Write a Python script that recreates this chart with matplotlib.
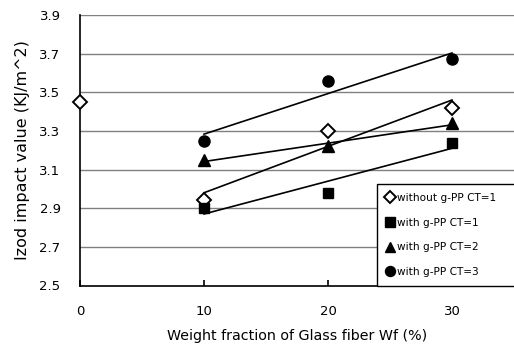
import numpy as np
import matplotlib
matplotlib.use("Agg")
import matplotlib.pyplot as plt

plt.rcParams['font.family'] = ['DejaVu Sans']

x_without = [0, 10, 20, 30]
without_ct1 = [3.45, 2.94, 3.30, 3.42]
x_with = [10, 20, 30]
with_ct1 = [2.90, 2.98, 3.24]
with_ct2 = [3.15, 3.22, 3.34]
with_ct3 = [3.25, 3.56, 3.67]
labels = ["without g-PP CT=1", "with g-PP CT=1", "with g-PP CT=2", "with g-PP CT=3"]
yticks = [2.5, 2.7, 2.9, 3.1, 3.3, 3.5, 3.7, 3.9]
xticks = [0, 10, 20, 30]

fig = plt.figure(figsize=(5.14, 3.51), dpi=100)
ax = fig.add_axes([80/514, (351-285.5)/351, 1 - 80/514, (285.5-15)/351])

ax.set_xlim(0, 35)
ax.set_ylim(2.5, 3.9)
for y in yticks[1:]:
    ax.axhline(y, color='#808080', lw=1.0, zorder=0)

series = [
    (x_without, without_ct1, dict(marker='D', mfc='white', mec='black', mew=1.4, ms=7)),
    (x_with, with_ct1, dict(marker='s', mfc='black', mec='black', ms=7.5)),
    (x_with, with_ct2, dict(marker='^', mfc='black', mec='black', ms=8.5)),
    (x_with, with_ct3, dict(marker='o', mfc='black', mec='black', ms=8)),
]
handles = []
for (xs, ys, st), lab in zip(series, labels):
    h, = ax.plot(xs, ys, ls='none', label=lab, zorder=4, clip_on=False, **st)
    handles.append(h)
    xf = np.array([v for v in xs if v >= 10], dtype=float)
    yf = np.array([ys[i] for i, v in enumerate(xs) if v >= 10], dtype=float)
    k, b = np.polyfit(xf, yf, 1)
    xx = np.array([xf.min(), xf.max()])
    ax.plot(xx, k * xx + b, color='black', lw=1.2, zorder=3)

ax.set_xticks(xticks)
ax.set_yticks(yticks)
ax.set_xticklabels([str(v) for v in xticks])
ax.set_yticklabels([f"{v:.1f}" for v in yticks])
ax.tick_params(axis='x', direction='in', length=4, width=1.2, pad=14, labelsize=9.5)
ax.tick_params(axis='y', length=0, pad=14, labelsize=9.5)
ax.spines['right'].set_visible(False)
ax.spines['top'].set_visible(False)
ax.spines['left'].set_linewidth(1.2)
ax.spines['bottom'].set_linewidth(1.2)

ax.set_xlabel("Weight fraction of Glass fiber Wf (%)", fontsize=10.3, labelpad=8)
ax.set_ylabel("Izod impact value (KJ/m^2)", fontsize=11.5, labelpad=7)

leg = ax.legend(handles=handles, loc='lower left', bbox_to_anchor=(0.684, 0.0, 0.35, 0.37),
                mode='expand', fontsize=7.6, frameon=True, fancybox=False, edgecolor='black',
                framealpha=1.0, borderpad=0.8, labelspacing=1.4, handlelength=0.8,
                handletextpad=0.3, borderaxespad=0, markerscale=0.9)
leg.get_frame().set_linewidth(1.0)
leg.set_zorder(10)

fig.savefig("out.png", dpi=100)
